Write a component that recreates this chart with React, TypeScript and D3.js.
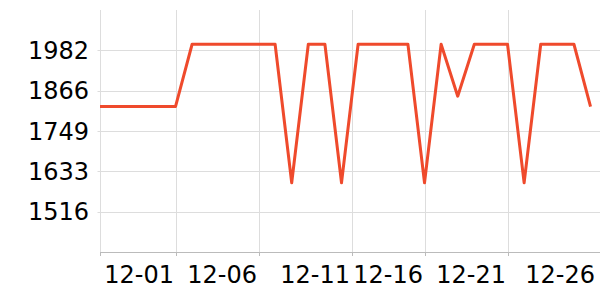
import React from "react";
import * as d3 from "d3";

const dates: string[] = [
  "2023-11-26", "2023-11-27", "2023-11-28", "2023-11-29", "2023-11-30", "2023-12-01",
  "2023-12-02", "2023-12-03", "2023-12-04", "2023-12-05", "2023-12-06", "2023-12-07",
  "2023-12-08", "2023-12-09", "2023-12-10", "2023-12-11", "2023-12-12", "2023-12-13",
  "2023-12-14", "2023-12-15", "2023-12-16", "2023-12-17", "2023-12-18", "2023-12-19",
  "2023-12-20", "2023-12-21", "2023-12-22", "2023-12-23", "2023-12-24", "2023-12-25",
  "2023-12-26",
];
const values: number[] = [
  1820, 1820, 1820, 1820, 1820, 1820,
  2000, 2000, 2000, 2000, 2000, 2000,
  1600, 2000, 2000, 1600, 2000, 2000,
  2000, 2000, 1600, 2000, 1850, 2000,
  2000, 2000, 1600, 2000, 2000, 2000,
  1820,
];

const xDomain: string[] = ["2023-11-26T10:51:00Z", "2023-12-26T13:41:00Z"];
const xTickDates: string[] = [
  "2023-12-01T00:00:00Z", "2023-12-06T00:00:00Z", "2023-12-11T14:30:00Z",
  "2023-12-16T00:00:00Z", "2023-12-21T00:00:00Z", "2023-12-26T08:40:00Z",
];
const xTickLabels: string[] = ["12-01", "12-06", "12-11", "12-16", "12-21", "12-26"];
const xGridCount = 5;

const yDomain: number[] = [1399.9, 2098.9];
const yTicks: number[] = [1516.4, 1632.9, 1749.4, 1865.9, 1982.4];
const yTickLabels: string[] = ["1516", "1633", "1749", "1866", "1982"];

export default function App() {
  const W = 600, H = 300;
  const left = 100.5, right = 600, top = 10, bottom = 252;
  const x = d3.scaleUtc().domain(xDomain.map((d) => new Date(d))).range([left - 0.5, right]);
  const y = d3.scaleLinear().domain(yDomain).range([bottom, top]);
  const pts = dates.map((d, i) => ({ t: new Date(d + "T00:00:00Z"), v: values[i] }));
  const line = d3.line<{ t: Date; v: number }>().x((d) => x(d.t)).y((d) => y(d.v));
  const font = "'DejaVu Sans', sans-serif";
  return (
    <svg width={W} height={H} style={{ position: "absolute", left: 0, top: 0 }} fontFamily={font}>
      <rect width={W} height={H} fill="#fff" />
      <defs>
        <clipPath id="plot">
          <rect x={left - 0.5} y={top - 5} width={right - left + 0.5} height={bottom - top + 10} />
        </clipPath>
      </defs>
      {yTicks.map((t, i) => (
        <g key={"y" + i}>
          <line x1={97.5} x2={right} y1={Math.round(y(t)) + 0.5} y2={Math.round(y(t)) + 0.5} stroke="#dddddd" strokeWidth={1} />
          <text x={89} y={y(t)} dy="0.36em" textAnchor="end" fontSize={24} fill="#000">
            {yTickLabels[i]}
          </text>
        </g>
      ))}
      <line x1={left} x2={left} y1={top} y2={bottom} stroke="#dddddd" />
      {xTickDates.slice(0, xGridCount).map((d, i) => {
        const px = Math.round(x(new Date(d))) + 0.5;
        return <line key={"xg" + i} x1={px} x2={px} y1={top} y2={bottom} stroke="#dddddd" />;
      })}
      <line x1={left - 0.5} x2={right} y1={bottom + 0.5} y2={bottom + 0.5} stroke="#bbbbbb" />
      <line x1={left} x2={left} y1={bottom} y2={bottom + 4} stroke="#bbbbbb" />
      {xTickDates.slice(0, xGridCount).map((d, i) => {
        const px = Math.round(x(new Date(d))) + 0.5;
        return <line key={"xt" + i} x1={px} x2={px} y1={bottom} y2={bottom + 4} stroke="#bbbbbb" />;
      })}
      {xTickDates.map((d, i) => (
        <text key={"xl" + i} x={x(new Date(d)) - 1.5} y={283.3} textAnchor="end" fontSize={24} fill="#000">
          {xTickLabels[i]}
        </text>
      ))}
      <path
        d={line(pts) || ""}
        fill="none"
        stroke="#ef4a2c"
        strokeWidth={3}
        strokeLinejoin="round"
        clipPath="url(#plot)"
      />
    </svg>
  );
}
